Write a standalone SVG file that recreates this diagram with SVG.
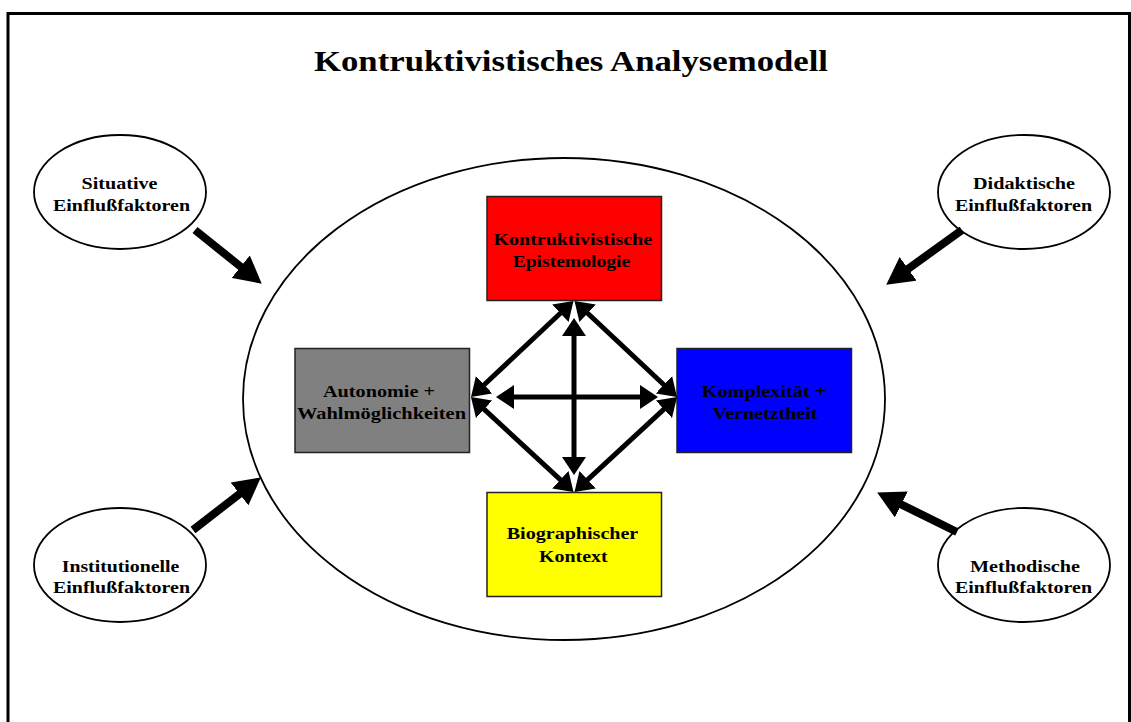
<svg xmlns="http://www.w3.org/2000/svg" width="1131" height="722" viewBox="0 0 1131 722">
  <style>
    .frame { fill: none; stroke: #000; stroke-width: 3; }
    .oval { fill: #fff; stroke: #000; stroke-width: 1.8; }
    .box { stroke: #222; stroke-width: 1.5; }
    .lbl { font-family: "Liberation Serif", "Times New Roman", serif; font-weight: bold; font-size: 16.5px; fill: #000; text-anchor: middle; }
    .title { font-family: "Liberation Serif", "Times New Roman", serif; font-weight: bold; font-size: 29px; fill: #000; }
    .link { stroke: #000; stroke-width: 5; fill: none; marker-start: url(#head); marker-end: url(#head); }
    .push { stroke: #000; stroke-width: 8; fill: none; marker-end: url(#bighead); }
  </style>
  <defs>
    <marker id="head" viewBox="0 0 18 24" markerWidth="18" markerHeight="24" refX="8" refY="12" orient="auto-start-reverse" markerUnits="userSpaceOnUse">
      <path d="M0,0 L18,12 L0,24 z" fill="#000"/>
    </marker>
    <marker id="bighead" viewBox="0 0 27 29" markerWidth="27" markerHeight="29" refX="10" refY="14.5" orient="auto" markerUnits="userSpaceOnUse">
      <path d="M0,0 L27,14.5 L0,29 z" fill="#000"/>
    </marker>
  </defs>

  <rect width="1131" height="722" fill="#fff"/>

  <!-- page frame, open at the bottom -->
  <path class="frame" d="M8,722 V13.5 H1129.5 V722"/>

  <text class="title" x="314" y="71" textLength="514" lengthAdjust="spacingAndGlyphs">Kontruktivistisches Analysemodell</text>

  <g id="analysis-space">
    <ellipse class="oval" cx="564" cy="399" rx="321" ry="241"/>
  </g>

  <g id="situative">
    <ellipse class="oval" cx="120" cy="192" rx="86" ry="57"/>
    <text class="lbl" x="119.5" y="189" textLength="76" lengthAdjust="spacingAndGlyphs">Situative</text>
    <text class="lbl" x="121.5" y="211" textLength="137" lengthAdjust="spacingAndGlyphs">Einflußfaktoren</text>
  </g>

  <g id="didaktische">
    <ellipse class="oval" cx="1024" cy="192" rx="86" ry="57"/>
    <text class="lbl" x="1024" y="189" textLength="102" lengthAdjust="spacingAndGlyphs">Didaktische</text>
    <text class="lbl" x="1023.5" y="211" textLength="137" lengthAdjust="spacingAndGlyphs">Einflußfaktoren</text>
  </g>

  <g id="institutionelle">
    <ellipse class="oval" cx="120" cy="565" rx="86" ry="57"/>
    <text class="lbl" x="120.5" y="572" textLength="117.6" lengthAdjust="spacingAndGlyphs">Institutionelle</text>
    <text class="lbl" x="121.5" y="593" textLength="137" lengthAdjust="spacingAndGlyphs">Einflußfaktoren</text>
  </g>

  <g id="methodische">
    <ellipse class="oval" cx="1024" cy="565" rx="86" ry="57"/>
    <text class="lbl" x="1025" y="572" textLength="110" lengthAdjust="spacingAndGlyphs">Methodische</text>
    <text class="lbl" x="1023.5" y="593" textLength="137" lengthAdjust="spacingAndGlyphs">Einflußfaktoren</text>
  </g>

  <g id="epistemologie">
    <rect class="box" x="487" y="196.5" width="174.5" height="104" fill="#ff0000"/>
    <text class="lbl" x="572.8" y="245" textLength="158.5" lengthAdjust="spacingAndGlyphs">Kontruktivistische</text>
    <text class="lbl" x="571.4" y="267" textLength="117.5" lengthAdjust="spacingAndGlyphs">Epistemologie</text>
  </g>

  <g id="autonomie">
    <rect class="box" x="295" y="348.5" width="174.5" height="104" fill="#808080"/>
    <text class="lbl" x="379" y="397" textLength="112" lengthAdjust="spacingAndGlyphs">Autonomie +</text>
    <text class="lbl" x="381.5" y="419" textLength="169" lengthAdjust="spacingAndGlyphs">Wahlmöglichkeiten</text>
  </g>

  <g id="komplexitaet">
    <rect class="box" x="677" y="348.5" width="174.5" height="104" fill="#0000ff"/>
    <text class="lbl" x="764" y="397" textLength="124.5" lengthAdjust="spacingAndGlyphs">Komplexität +</text>
    <text class="lbl" x="765" y="419" textLength="105" lengthAdjust="spacingAndGlyphs">Vernetztheit</text>
  </g>

  <g id="biographie">
    <rect class="box" x="487" y="492.5" width="174.5" height="104" fill="#ffff00"/>
    <text class="lbl" x="572.5" y="539" textLength="131.6" lengthAdjust="spacingAndGlyphs">Biographischer</text>
    <text class="lbl" x="573.3" y="562" textLength="68.7" lengthAdjust="spacingAndGlyphs">Kontext</text>
  </g>

  <g id="connectors">
    <!-- influences pointing into the analysis space -->
    <line class="push" x1="195" y1="230" x2="248.5" y2="273"/>
    <line class="push" x1="962" y1="230" x2="900" y2="274.7"/>
    <line class="push" x1="193" y1="530" x2="247.4" y2="487.8"/>
    <line class="push" x1="957" y1="532" x2="892.4" y2="500.1"/>

    <!-- diamond of mutual relations -->
    <line class="link" x1="566.2" y1="307.8" x2="478.3" y2="390.2"/>
    <line class="link" x1="581.8" y1="307.8" x2="669.7" y2="390.2"/>
    <line class="link" x1="478.3" y1="403.8" x2="566.2" y2="485.2"/>
    <line class="link" x1="669.7" y1="403.8" x2="581.8" y2="485.2"/>

    <!-- central cross -->
    <line class="link" x1="574" y1="328" x2="574" y2="465"/>
    <line class="link" x1="506" y1="397" x2="648" y2="397"/>
  </g>
</svg>
